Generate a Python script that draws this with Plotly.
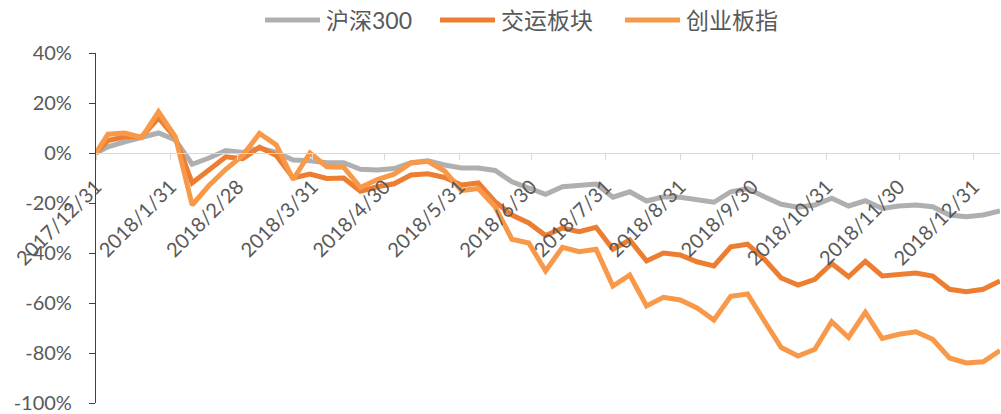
import plotly.graph_objects as go

dates = [
    '2017-12-31', '2018-01-05', '2018-01-12', '2018-01-19', '2018-01-26',
    '2018-02-02', '2018-02-09', '2018-02-16', '2018-02-23', '2018-03-02',
    '2018-03-09', '2018-03-16', '2018-03-23', '2018-03-30', '2018-04-06',
    '2018-04-13', '2018-04-20', '2018-04-27', '2018-05-04', '2018-05-11',
    '2018-05-18', '2018-05-25', '2018-06-01', '2018-06-08', '2018-06-15',
    '2018-06-22', '2018-06-29', '2018-07-06', '2018-07-13', '2018-07-20',
    '2018-07-27', '2018-08-03', '2018-08-10', '2018-08-17', '2018-08-24',
    '2018-08-31', '2018-09-07', '2018-09-14', '2018-09-21', '2018-09-28',
    '2018-10-05', '2018-10-12', '2018-10-19', '2018-10-26', '2018-11-02',
    '2018-11-09', '2018-11-16', '2018-11-23', '2018-11-30', '2018-12-07',
    '2018-12-14', '2018-12-21', '2018-12-28', '2019-01-04', '2019-01-11',
]

# weekly cumulative returns, %
hs300 = [0, 2.5, 4.5, 6, 8, 5.2, -4.5, -2, 1, 0.2,
         2, 0.3, -2.8, -3.1, -3.9, -3.9, -6.5, -6.8, -6.2, -3.9,
         -3.1, -4.8, -6, -6, -7, -11.5, -14, -16.5, -13.5, -13.2,
         -12.4, -17.7, -15.5, -19.2, -17.5, -17.7, -18.8, -19.7, -15.5, -14.2,
         -17.5, -20.5, -21.7, -20.8, -18.1, -21.2, -19.1, -22.2, -21.2, -20.8,
         -21.5, -24.8, -25.5, -24.8, -23.2]

jiaoyun = [0, 5, 6.5, 6.5, 14, 6, -12, -7, -1.5, -2.3,
           2.3, -1, -10, -8.4, -10.2, -10, -15.3, -13.5, -12.3, -8.8,
           -8.3, -9.8, -12.8, -12, -19.5, -24.8, -28, -33, -30, -31.5,
           -29.7, -38.5, -34.8, -43.2, -40, -40.8, -43.5, -45.2, -37.5, -36.5,
           -42.5, -50, -52.8, -50.5, -44.2, -49.5, -43.3, -49.2, -48.8, -48,
           -49.2, -54.5, -55.5, -54.5, -51.2]

cyb = [0, 7.5, 8, 6.2, 16.5, 6.5, -20.8, -13, -6.5, -1,
       7.8, 3.2, -10.6, 0, -5.5, -5.7, -13.8, -10.6, -8.5, -4,
       -3.3, -7.2, -15, -14.2, -21.5, -34.5, -36, -47.2, -37.7, -39.5,
       -38.5, -53.2, -48.8, -61.2, -57.7, -58.8, -62, -66.8, -57.3, -56.4,
       -67.2, -77.8, -81.2, -78.5, -67.5, -73.8, -63.7, -74.2, -72.5, -71.5,
       -74.5, -82, -84, -83.5, -79]

names = ['沪深300', '交运板块', '创业板指']
colors = ['#AFAFAF', '#ED7D31', '#F8994A']
values = [hs300, jiaoyun, cyb]

month_ticks = ['2017-12-31', '2018-01-31', '2018-02-28', '2018-03-31', '2018-04-30',
               '2018-05-31', '2018-06-30', '2018-07-31', '2018-08-31', '2018-09-30',
               '2018-10-31', '2018-11-30', '2018-12-31']
month_labels = ['2017/12/31', '2018/1/31', '2018/2/28', '2018/3/31', '2018/4/30',
                '2018/5/31', '2018/6/30', '2018/7/31', '2018/8/31', '2018/9/30',
                '2018/10/31', '2018/11/30', '2018/12/31']

y_ticks = [-100, -80, -60, -40, -20, 0, 20, 40]
y_labels = ['-100%', '-80%', '-60%', '-40%', '-20%', '0%', '20%', '40%']

FONT = 'Lato, Noto Sans CJK SC, sans-serif'
W, H = 1001, 414
L, R, T, B = 96, 1, 53, 11


def px_x(px):
    return (px - L) / (W - L - R)


def px_y(py):
    return (H - B - py) / (H - T - B)


fig = go.Figure()
for name, vals, color in zip(names, values, colors):
    fig.add_trace(go.Scatter(
        x=dates, y=vals, mode='lines', name=name,
        line=dict(color=color, width=5)
    ))

# legend drawn by hand so the sample lines match the original
legend_x = [265, 440, 625]
for x0, name, color in zip(legend_x, names, colors):
    fig.add_shape(type='line', xref='paper', yref='paper',
                  x0=px_x(x0), x1=px_x(x0 + 55), y0=px_y(20), y1=px_y(20),
                  line=dict(color=color, width=5))
    fig.add_annotation(xref='paper', yref='paper', x=px_x(x0 + 59), y=px_y(20),
                       text=name, showarrow=False, xanchor='left', yanchor='middle',
                       font=dict(size=23, color='#595959'))

fig.update_layout(
    width=W, height=H,
    margin=dict(l=L, r=R, t=T, b=B, autoexpand=False),
    paper_bgcolor='white',
    plot_bgcolor='white',
    font=dict(family=FONT, color='#595959'),
    showlegend=False,
    xaxis=dict(
        type='date',
        range=['2017-12-31', '2019-01-11'],
        anchor='free', position=1 / 1.4,
        tickvals=month_ticks, ticktext=month_labels,
        tickangle=-45,
        tickfont=dict(size=20, color='#595959'),
        ticks='outside', ticklen=6, tickcolor='#D9D9D9',
        ticklabelstandoff=7,
        showline=True, linecolor='#D9D9D9', linewidth=1.3,
        showgrid=False, zeroline=False,
        automargin=False,
    ),
    yaxis=dict(
        range=[-100, 40],
        tickvals=y_ticks, ticktext=y_labels,
        tickfont=dict(size=20, color='#595959'),
        ticks='outside', ticklen=6, tickcolor='#404040',
        showline=True, linecolor='#404040', linewidth=1.2,
        showgrid=False, zeroline=False,
        ticklabelstandoff=13,
        automargin=False,
    ),
)

fig.write_html('out.html', config={'displayModeBar': False},
               post_script="document.body.style.margin='0';document.body.style.overflow='hidden';")
